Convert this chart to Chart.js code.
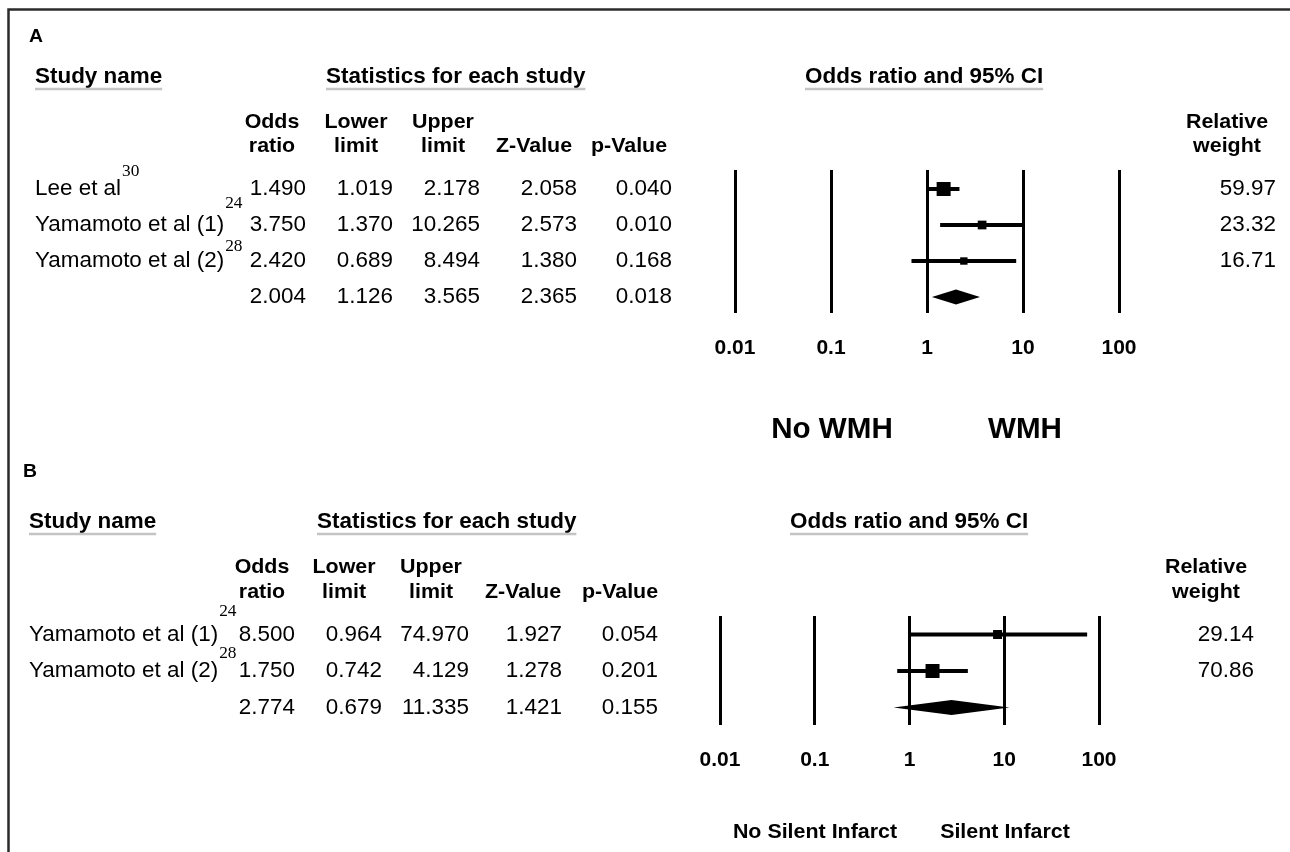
<!DOCTYPE html>
<html>
<head>
<meta charset="utf-8">
<title>Forest plots</title>
<script src="https://cdn.jsdelivr.net/npm/chart.js@4.4.1/dist/chart.umd.min.js"></script>
<style>
  html, body { margin: 0; padding: 0; background: #fff; }
  #wrap { position: relative; width: 1290px; height: 852px; }
  #wrap canvas { position: absolute; left: 0; top: 0; }
</style>
</head>
<body>
<div id="wrap">
  <canvas id="chartA" width="1290" height="852"></canvas>
  <canvas id="chartB" width="1290" height="852"></canvas>
</div>
<script>
// --- Panel A: WMH ---
const studiesA = ['Lee et al', 'Yamamoto et al (1)', 'Yamamoto et al (2)', ''];
const refsA = ['30', '24', '28', ''];
const oddsA = [1.490, 3.750, 2.420, 2.004];
const lowerA = [1.019, 1.370, 0.689, 1.126];
const upperA = [2.178, 10.265, 8.494, 3.565];
const zA = [2.058, 2.573, 1.380, 2.365];
const pA = [0.040, 0.010, 0.168, 0.018];
const weightA = [59.97, 23.32, 16.71];

// --- Panel B: silent infarct ---
const studiesB = ['Yamamoto et al (1)', 'Yamamoto et al (2)', ''];
const refsB = ['24', '28', ''];
const oddsB = [8.500, 1.750, 2.774];
const lowerB = [0.964, 0.742, 0.679];
const upperB = [74.970, 4.129, 11.335];
const zB = [1.927, 1.278, 1.421];
const pB = [0.054, 0.201, 0.155];
const weightB = [29.14, 70.86];

const tickValues = [0.01, 0.1, 1, 10, 100];
const tickLabels = ['0.01', '0.1', '1', '10', '100'];

const FONT = '"Liberation Sans", Arial, sans-serif';
const SX = 1.02; // the original figure is a touch wider than plain Arial

function txt(ctx, s, x, y, align, font) {
    ctx.save();
    ctx.font = font;
    ctx.fillStyle = '#000';
    ctx.textAlign = align;
    ctx.textBaseline = 'middle';
    ctx.translate(x, y);
    ctx.scale(SX, 1);
    ctx.fillText(s, 0, 0);
    ctx.restore();
}

function textWidth(ctx, s, font) {
    ctx.save();
    ctx.font = font;
    const w = ctx.measureText(s).width * SX;
    ctx.restore();
    return w;
}

function forestPlugin(cfg) {
    return {
        id: 'forestTable',
        afterDatasetsDraw(chart) {
            // pooled estimate diamond
            const ctx = chart.ctx, xs = chart.scales.x, ys = chart.scales.y;
            const last = cfg.odds.length - 1;
            const cx = xs.getPixelForValue(cfg.odds[last]);
            const lx = xs.getPixelForValue(cfg.lower[last]);
            const rx = xs.getPixelForValue(cfg.upper[last]);
            const cy = ys.getPixelForValue(last);
            ctx.save();
            ctx.fillStyle = '#000';
            ctx.beginPath();
            ctx.moveTo(lx, cy);
            ctx.lineTo(cx, cy - 7.5);
            ctx.lineTo(rx, cy);
            ctx.lineTo(cx, cy + 7.5);
            ctx.closePath();
            ctx.fill();
            ctx.restore();
        },
        afterDraw(chart) {
            const ctx = chart.ctx, ys = chart.scales.y;
            const bold = 'bold 22px ' + FONT;
            const headFont = 'bold 21px ' + FONT;
            const plain = '22px ' + FONT;

            if (cfg.frame) {
                ctx.save();
                ctx.strokeStyle = '#2b2b2b';
                ctx.lineWidth = 2.5;
                ctx.beginPath();
                ctx.moveTo(1290, 9.5);
                ctx.lineTo(8.5, 9.5);
                ctx.lineTo(8.5, 852);
                ctx.stroke();
                ctx.restore();
            }

            txt(ctx, cfg.letter, cfg.nameX - 6, cfg.letterY, 'left', 'bold 19px ' + FONT);

            // section titles with grey underline
            cfg.titles.forEach(([s, x]) => {
                txt(ctx, s, x, cfg.headY, 'left', bold);
                const w = textWidth(ctx, s, bold);
                ctx.save();
                ctx.strokeStyle = '#c4c4c4';
                ctx.lineWidth = 2.5;
                ctx.beginPath();
                ctx.moveTo(x, cfg.underlineY);
                ctx.lineTo(x + w, cfg.underlineY);
                ctx.stroke();
                ctx.restore();
            });

            // column headers
            const heads = [['Odds', 'ratio'], ['Lower', 'limit'], ['Upper', 'limit'], ['', 'Z-Value'], ['', 'p-Value']];
            heads.forEach((h, c) => {
                txt(ctx, h[0], cfg.colHead[c], cfg.headRowY[0], 'center', headFont);
                txt(ctx, h[1], cfg.colHead[c], cfg.headRowY[1], 'center', headFont);
            });
            txt(ctx, 'Relative', cfg.weightHead, cfg.headRowY[0], 'center', headFont);
            txt(ctx, 'weight', cfg.weightHead, cfg.headRowY[1], 'center', headFont);

            // rows
            const cols = [cfg.odds, cfg.lower, cfg.upper, cfg.z, cfg.p];
            cfg.odds.forEach((v, i) => {
                const y = ys.getPixelForValue(i);
                if (cfg.studies[i]) {
                    txt(ctx, cfg.studies[i], cfg.nameX, y, 'left', plain);
                    const w = textWidth(ctx, cfg.studies[i], plain);
                    txt(ctx, cfg.refs[i], cfg.nameX + w + 1, y + cfg.supDy[i], 'left', '17px "Liberation Serif", serif');
                }
                cols.forEach((col, c) => {
                    txt(ctx, col[i].toFixed(3), cfg.colRight[c], y, 'right', plain);
                });
                if (i < cfg.weight.length) {
                    txt(ctx, cfg.weight[i].toFixed(2), cfg.weightRight, y, 'right', plain);
                }
            });

            txt(ctx, cfg.favours[0], cfg.favoursX[0], cfg.favoursY, 'center', cfg.favoursFont);
            txt(ctx, cfg.favours[1], cfg.favoursX[1], cfg.favoursY, 'center', cfg.favoursFont);
        }
    };
}

function makeForest(cfg) {
    const last = cfg.odds.length - 1;
    const maxW = Math.max(...cfg.weight);
    const datasets = [];
    for (let i = 0; i < last; i++) {
        datasets.push({
            data: [{ x: cfg.lower[i], y: i }, { x: cfg.upper[i], y: i }],
            showLine: true,
            borderColor: '#000',
            borderWidth: 4,
            pointRadius: 0,
            order: 2
        });
    }
    datasets.push({
        data: cfg.odds.slice(0, last).map((v, i) => ({ x: v, y: i })),
        pointStyle: 'rect',
        pointRadius: cfg.weight.map(w => cfg.bigSide * Math.sqrt(w / maxW) / Math.SQRT2),
        backgroundColor: '#000',
        borderWidth: 0,
        order: 1
    });

    new Chart(document.getElementById(cfg.id), {
        type: 'scatter',
        data: { datasets: datasets },
        options: {
            responsive: false,
            devicePixelRatio: 1,
            animation: false,
            events: [],
            layout: {
                padding: {
                    left: cfg.area.left,
                    right: 1290 - cfg.area.right,
                    top: cfg.area.top,
                    bottom: 852 - cfg.area.bottom - 60
                }
            },
            scales: {
                x: {
                    type: 'logarithmic',
                    min: 0.01,
                    max: 100,
                    afterBuildTicks: s => { s.ticks = tickValues.map(v => ({ value: v })); },
                    afterFit: s => { s.height = 60; },
                    grid: { color: '#000', lineWidth: 3, drawTicks: false },
                    border: { display: false },
                    ticks: {
                        color: '#000',
                        padding: 23,
                        autoSkip: false,
                        maxRotation: 0,
                        font: { family: FONT, size: 21, weight: 'bold' },
                        callback: (v, i) => tickLabels[i]
                    }
                },
                y: {
                    type: 'linear',
                    display: false,
                    reverse: true,
                    min: cfg.yRange[0],
                    max: cfg.yRange[1]
                }
            },
            plugins: {
                legend: { display: false },
                tooltip: { enabled: false }
            }
        },
        plugins: [forestPlugin(cfg)]
    });
}

makeForest({
    id: 'chartA', frame: true,
    letter: 'A', letterY: 37,
    studies: studiesA, refs: refsA, odds: oddsA, lower: lowerA, upper: upperA, z: zA, p: pA, weight: weightA,
    area: { left: 735, right: 1119, top: 170, bottom: 313 },
    yRange: [-0.528, 3.444],
    nameX: 35,
    colRight: [306, 393, 480, 577, 672],
    colHead: [272, 356, 443, 534, 629],
    weightRight: 1276, weightHead: 1227,
    headY: 77, headRowY: [122, 146], underlineY: 89,
    titles: [['Study name', 35], ['Statistics for each study', 326], ['Odds ratio and 95% CI', 805]],
    supDy: [-17, -21, -14],
    favours: ['No WMH', 'WMH'], favoursX: [832, 1025], favoursY: 430,
    favoursFont: 'bold 29px ' + FONT,
    bigSide: 14
});

makeForest({
    id: 'chartB', frame: false,
    letter: 'B', letterY: 472,
    studies: studiesB, refs: refsB, odds: oddsB, lower: lowerB, upper: upperB, z: zB, p: pB, weight: weightB,
    area: { left: 720, right: 1099, top: 616, bottom: 725 },
    yRange: [-0.507, 2.479],
    nameX: 29,
    colRight: [295, 382, 469, 562, 658],
    colHead: [262, 344, 431, 523, 620],
    weightRight: 1254, weightHead: 1206,
    headY: 522, headRowY: [567, 592], underlineY: 534,
    titles: [['Study name', 29], ['Statistics for each study', 317], ['Odds ratio and 95% CI', 790]],
    supDy: [-22.5, -17],
    favours: ['No Silent Infarct', 'Silent Infarct'], favoursX: [815, 1005], favoursY: 832,
    favoursFont: 'bold 21px ' + FONT,
    bigSide: 14
});
</script>
</body>
</html>
